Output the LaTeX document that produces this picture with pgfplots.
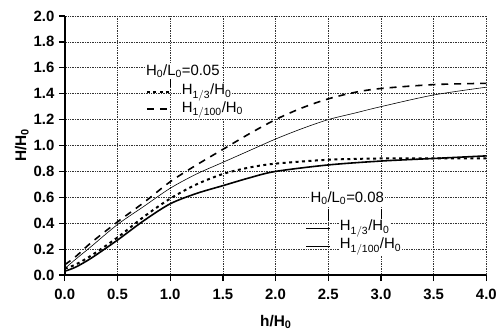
\documentclass[border=0pt]{standalone}
\usepackage{pgfplots}
\pgfplotsset{compat=1.18}
\usepackage{fontspec}
\setmainfont{Liberation Sans}
\begin{document}
\begin{tikzpicture}[x=1bp,y=1bp]
\begin{axis}[
  scale only axis,
  width=423bp, height=260bp,
  xmin=0, xmax=4, ymin=0, ymax=2,
  xtick={0,0.5,...,4}, ytick={0,0.2,...,2},
  /pgf/number format/fixed,
  /pgf/number format/fixed zerofill,
  /pgf/number format/precision=1,
  /pgf/number format/assume math mode=true,
  ticklabel style={font=\fontsize{15}{17}\selectfont\bfseries},
  label style={font=\fontsize{15.5}{17}\selectfont\bfseries},
  xlabel={h/H\raisebox{-0.3ex}{\fontsize{11}{12}\selectfont\bfseries 0}},
  ylabel={H/H\raisebox{-0.3ex}{\fontsize{11}{12}\selectfont\bfseries 0}},
  axis x line*=bottom, axis y line*=left,
  axis line style={-, line width=2pt},
  tick align=outside, major tick length=6bp,
  tick style={line width=1.3pt, black},
  grid=major,
  major grid style={black!80, line width=0.7pt, densely dotted},
  xticklabel style={yshift=-5bp},
  yticklabel style={xshift=-1bp},
  xlabel style={yshift=-8bp},
  ylabel style={yshift=-2bp},
  clip=false,
]
% H0/L0=0.05, H1/100 (dashed)
\addplot[black, line width=1.6pt, dash pattern=on 7bp off 6bp, smooth] coordinates {
(0,0.08) (0.1,0.14) (0.25,0.25) (0.5,0.41) (0.75,0.56) (1.0,0.72) (1.25,0.85) (1.5,0.97) (1.75,1.09) (2.0,1.2) (2.25,1.29) (2.5,1.36) (2.75,1.41) (3.0,1.44) (3.5,1.47) (4.0,1.48)};
% H0/L0=0.08, H1/100 (thin)
\addplot[black, line width=0.6pt, smooth] coordinates {
(0,0.05) (0.1,0.12) (0.25,0.22) (0.5,0.39) (0.75,0.53) (1.0,0.67) (1.25,0.78) (1.5,0.87) (1.75,0.96) (2.0,1.05) (2.25,1.13) (2.5,1.2) (2.75,1.25) (3.0,1.3) (3.5,1.39) (4.0,1.45)};
% H0/L0=0.05, H1/3 (dotted)
\addplot[black, line width=2pt, dash pattern=on 3bp off 3.5bp, smooth] coordinates {
(0,0.05) (0.1,0.08) (0.25,0.15) (0.5,0.29) (0.75,0.45) (1.0,0.59) (1.25,0.70) (1.5,0.78) (1.75,0.83) (2.0,0.86) (2.5,0.89) (3.0,0.9) (3.5,0.9) (4.0,0.9)};
% H0/L0=0.08, H1/3 (thick solid)
\addplot[black, line width=1.6pt, smooth] coordinates {
(0,0.03) (0.1,0.06) (0.25,0.13) (0.5,0.27) (0.75,0.42) (1.0,0.55) (1.25,0.63) (1.5,0.69) (1.75,0.75) (2.0,0.80) (2.5,0.85) (3.0,0.88) (3.5,0.90) (4.0,0.92)};

% annotations 0.05
\node[fill=white, inner sep=1pt, font=\fontsize{15}{17}\selectfont] at (axis cs:1.12,1.575) {H$_\mathrm{0}$/L$_\mathrm{0}$=0.05};
\draw[black, line width=0.8pt] (axis cs:1.0,1.51) -- (axis cs:1.0,1.45);
\draw[black, line width=2pt, dash pattern=on 3bp off 3.5bp] (axis cs:0.78,1.415) -- (axis cs:0.99,1.415);
\node[fill=white, inner sep=1pt, anchor=west, font=\fontsize{15}{17}\selectfont] at (axis cs:1.1,1.41) {H$_\mathrm{1/3}$/H$_\mathrm{0}$};
\draw[black, line width=1.6pt, dash pattern=on 7bp off 6bp] (axis cs:0.78,1.28) -- (axis cs:0.99,1.28);
\node[fill=white, inner sep=1pt, anchor=west, font=\fontsize{15}{17}\selectfont] at (axis cs:1.1,1.275) {H$_\mathrm{1/100}$/H$_\mathrm{0}$};

% annotations 0.08
\node[fill=white, inner sep=1pt, font=\fontsize{15}{17}\selectfont] at (axis cs:2.68,0.595) {H$_\mathrm{0}$/L$_\mathrm{0}$=0.08};
\draw[black, line width=0.8pt] (axis cs:2.5,0.51) -- (axis cs:2.5,0.42);
\draw[black, line width=0.8pt] (axis cs:3.0,0.51) -- (axis cs:3.0,0.42);
\draw[black, line width=1.2pt] (axis cs:2.29,0.36) -- (axis cs:2.52,0.36);
\node[fill=white, inner sep=1pt, anchor=west, font=\fontsize{15}{17}\selectfont] at (axis cs:2.6,0.36) {H$_\mathrm{1/3}$/H$_\mathrm{0}$};
\draw[black, line width=0.6pt] (axis cs:2.29,0.22) -- (axis cs:2.52,0.22);
\node[fill=white, inner sep=1pt, anchor=west, font=\fontsize{15}{17}\selectfont] at (axis cs:2.6,0.22) {H$_\mathrm{1/100}$/H$_\mathrm{0}$};
\end{axis}
\path[use as bounding box] ([xshift=-65bp,yshift=-56bp]current axis.south west) rectangle ([xshift=12bp,yshift=16bp]current axis.north east);
\end{tikzpicture}
\end{document}
